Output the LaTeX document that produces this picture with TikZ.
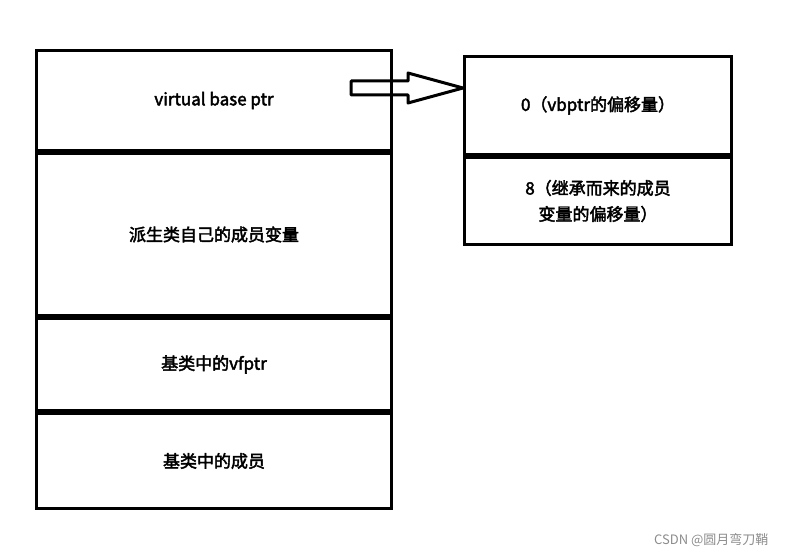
\documentclass[tikz,border=0pt]{standalone}
\usepackage{fontspec}
\setmainfont{Noto Sans CJK SC}
\newfontfamily\cellfont[FakeBold=2.5]{Noto Sans CJK SC}
\usetikzlibrary{positioning}

\begin{document}
\begin{tikzpicture}[x=1pt,y=-1pt,
    cell/.style={rectangle,draw=black,line width=3pt,fill=white,
        minimum width=355pt,inner sep=0pt,font=\cellfont\fontsize{17}{26}\selectfont,align=center},
    entry/.style={cell,minimum width=267pt},
    watermark/.style={font=\fontsize{13}{15}\selectfont,text=black!45}
]
 \useasboundingbox (0,0) rectangle (785,559);
 \node[cell,minimum height=100pt,anchor=north west] (vbase) at (35,49) {virtual base ptr};
 \node[cell,minimum height=162pt] (own) [below=0pt of vbase] {派生类自己的成员变量};
 \node[cell,minimum height=92pt] (bvfptr) [below=0pt of own] {基类中的vfptr};
 \node[cell,minimum height=95pt] (bmember) [below=0pt of bvfptr] {基类中的成员};

 \node[entry,minimum height=98pt,anchor=north west] (off0) at (463,55) {0（vbptr的偏移量）};
 \node[entry,minimum height=87pt] (off8) [below=0pt of off0] {8（继承而来的成员\\变量的偏移量）};

 \coordinate (tail) at (351,88);
 \draw[line width=3pt,line join=round]
    (tail) ++(0,-7) -- ++(57,0) -- ++(0,-8) -- (off0.west |- tail)
    -- ++(-55,15) -- ++(0,-8) -- ++(-57,0) -- cycle;

 \node[watermark,anchor=east] (wm) at (772,540) {CSDN @圆月弯刀鞘};
\end{tikzpicture}
\end{document}
